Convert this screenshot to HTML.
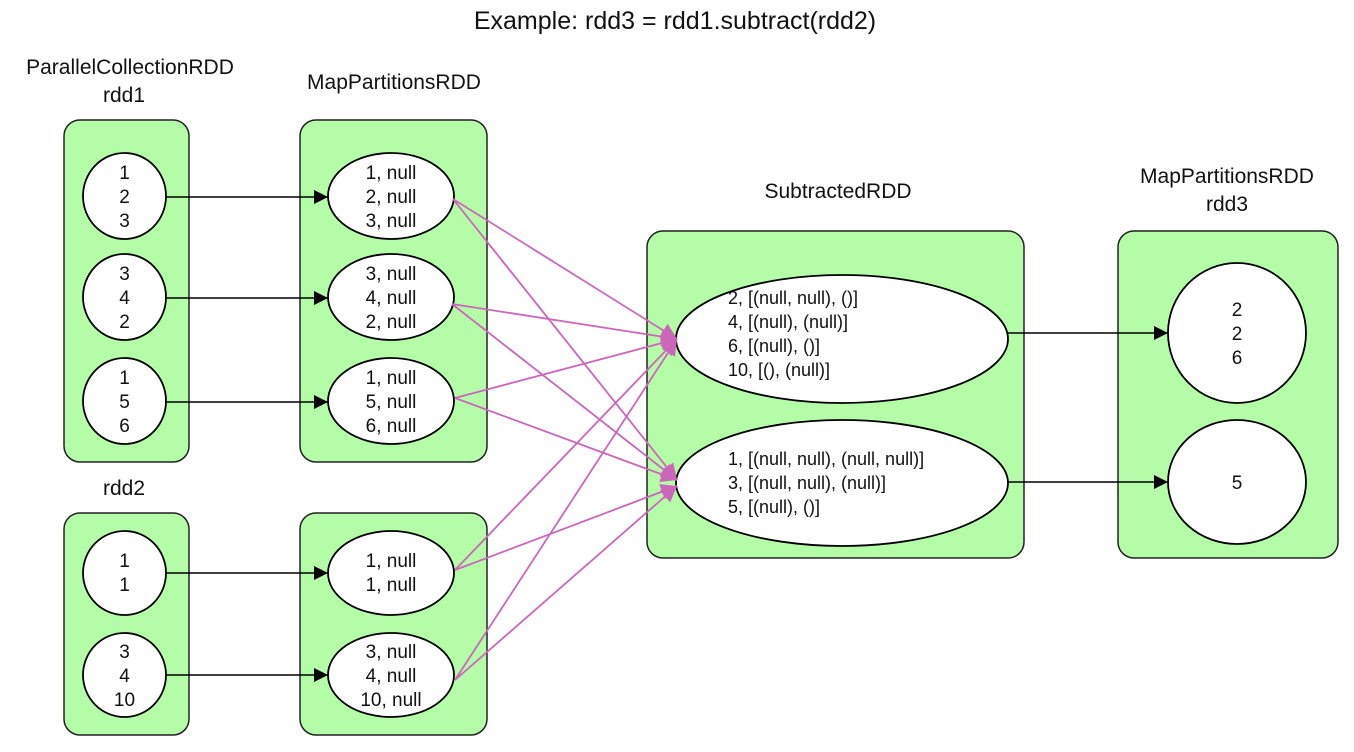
<!DOCTYPE html>
<html><head><meta charset="utf-8"><style>
html,body{margin:0;padding:0;background:#fff;}
svg{display:block;}
text{font-family:"Liberation Sans",sans-serif;fill:#111;}
</style></head><body>
<svg width="1354" height="752" viewBox="0 0 1354 752" xmlns="http://www.w3.org/2000/svg">
<defs>
<marker id="ab" viewBox="0 0 10 10" refX="10" refY="5" markerWidth="20" markerHeight="14" markerUnits="userSpaceOnUse" orient="auto"><path d="M0,0L10,5L0,10z" fill="#000"/></marker>
<marker id="ap" viewBox="0 0 10 10" refX="10" refY="5" markerWidth="20" markerHeight="16" markerUnits="userSpaceOnUse" orient="auto"><path d="M0,0L10,5L0,10z" fill="#cc66bb"/></marker>
</defs>
<text x="675" y="29" font-size="25" text-anchor="middle">Example: rdd3 = rdd1.subtract(rdd2)</text>
<g font-size="21" text-anchor="middle">
<text x="130" y="74">ParallelCollectionRDD</text>
<text x="124" y="102">rdd1</text>
<text x="394" y="89">MapPartitionsRDD</text>
<text x="838" y="198">SubtractedRDD</text>
<text x="1227" y="183">MapPartitionsRDD</text>
<text x="1227" y="211">rdd3</text>
<text x="124" y="495">rdd2</text>
</g>
<g fill="#b5fca9" stroke="#222" stroke-width="1.5">
<rect x="64" y="120" width="125" height="342" rx="16"/>
<rect x="300" y="120" width="187" height="342" rx="16"/>
<rect x="64" y="513" width="125" height="222" rx="16"/>
<rect x="300" y="513" width="187" height="222" rx="16"/>
<rect x="647" y="231" width="377" height="327" rx="16"/>
<rect x="1118" y="231" width="220" height="327" rx="16"/>
</g>
<g fill="#fff" stroke="#000" stroke-width="1.8">
<ellipse cx="124.5" cy="196" rx="41.5" ry="43"/>
<ellipse cx="124.5" cy="297" rx="41.5" ry="43"/>
<ellipse cx="124.5" cy="401" rx="41.5" ry="43"/>
<ellipse cx="124.5" cy="573" rx="41.5" ry="42"/>
<ellipse cx="124.5" cy="675" rx="41.5" ry="42"/>
<ellipse cx="391" cy="196" rx="63" ry="43"/>
<ellipse cx="391" cy="297" rx="63" ry="43"/>
<ellipse cx="391" cy="401" rx="63" ry="43"/>
<ellipse cx="391" cy="573" rx="63" ry="42"/>
<ellipse cx="391" cy="675" rx="63" ry="42"/>
<ellipse cx="842" cy="339" rx="166" ry="64"/>
<ellipse cx="842" cy="483" rx="166" ry="63"/>
<ellipse cx="1237" cy="333" rx="69" ry="70"/>
<ellipse cx="1237" cy="482" rx="69" ry="62"/>
</g>
<g stroke="#000" stroke-width="1.6" marker-end="url(#ab)">
<line x1="166" y1="197" x2="328" y2="197"/>
<line x1="166" y1="298" x2="328" y2="298"/>
<line x1="166" y1="402" x2="328" y2="402"/>
<line x1="166" y1="573" x2="328" y2="573"/>
<line x1="166" y1="675" x2="328" y2="675"/>
<line x1="1008" y1="333" x2="1168" y2="333"/>
<line x1="1008" y1="482" x2="1168" y2="482"/>
</g>
<g stroke="#cc66bb" stroke-width="1.8" marker-end="url(#ap)">
<line x1="453" y1="199" x2="677" y2="339"/>
<line x1="453" y1="199" x2="677" y2="480"/>
<line x1="452" y1="304" x2="677" y2="339"/>
<line x1="452" y1="304" x2="677" y2="480"/>
<line x1="455" y1="398" x2="677" y2="339"/>
<line x1="455" y1="398" x2="677" y2="480"/>
<line x1="455" y1="570" x2="677" y2="339"/>
<line x1="455" y1="570" x2="677" y2="486"/>
<line x1="455" y1="680" x2="677" y2="339"/>
<line x1="455" y1="680" x2="677" y2="486"/>
</g>
<g font-size="19" text-anchor="middle">
<text x="124.5" y="179">1</text><text x="124.5" y="203">2</text><text x="124.5" y="227">3</text>
<text x="124.5" y="280">3</text><text x="124.5" y="304">4</text><text x="124.5" y="328">2</text>
<text x="124.5" y="384">1</text><text x="124.5" y="408">5</text><text x="124.5" y="432">6</text>
<text x="124.5" y="567">1</text><text x="124.5" y="591">1</text>
<text x="124.5" y="658">3</text><text x="124.5" y="682">4</text><text x="124.5" y="706">10</text>
<text x="391" y="179">1, null</text><text x="391" y="203">2, null</text><text x="391" y="227">3, null</text>
<text x="391" y="280">3, null</text><text x="391" y="304">4, null</text><text x="391" y="328">2, null</text>
<text x="391" y="384">1, null</text><text x="391" y="408">5, null</text><text x="391" y="432">6, null</text>
<text x="391" y="567">1, null</text><text x="391" y="591">1, null</text>
<text x="391" y="658">3, null</text><text x="391" y="682">4, null</text><text x="391" y="706">10, null</text>
<text x="1237" y="316">2</text><text x="1237" y="340">2</text><text x="1237" y="364">6</text>
<text x="1237" y="489">5</text>
</g>
<g font-size="18">
<text x="728" y="304">2, [(null, null), ()]</text>
<text x="728" y="328">4, [(null), (null)]</text>
<text x="728" y="352">6, [(null), ()]</text>
<text x="728" y="376">10, [(), (null)]</text>
<text x="728" y="465">1, [(null, null), (null, null)]</text>
<text x="728" y="489">3, [(null, null), (null)]</text>
<text x="728" y="513">5, [(null), ()]</text>
</g>
</svg>
</body></html>
